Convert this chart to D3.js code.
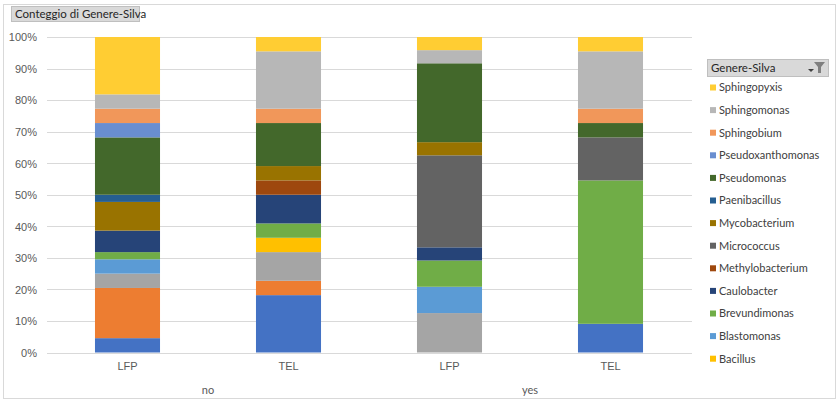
<!DOCTYPE html>
<html>
<head>
<meta charset="utf-8">
<script src="https://cdn.jsdelivr.net/npm/d3@7"></script>
<style>
  html, body { margin: 0; padding: 0; background: #fff; }
  svg { display: block; font-family: Lato, "Open Sans", "Liberation Sans", sans-serif; }
</style>
</head>
<body>
<svg id="chart" width="840" height="401"></svg>
<script>
// ---- data (counts; shown as 100% stacked) ----
const groups = ["no", "no", "yes", "yes"];
const categories = ["LFP", "TEL", "LFP", "TEL"];
// series in stacking order (bottom -> top); the first three legend entries are scrolled out of view
const seriesNames = ["Genere A", "Genere B", "Genere C", "Bacillus", "Blastomonas", "Brevundimonas",
  "Caulobacter", "Methylobacterium", "Micrococcus", "Mycobacterium", "Paenibacillus",
  "Pseudomonas", "Pseudoxanthomonas", "Sphingobium", "Sphingomonas", "Sphingopyxis"];
const legendVisible = ["Sphingopyxis", "Sphingomonas", "Sphingobium", "Pseudoxanthomonas",
  "Pseudomonas", "Paenibacillus", "Mycobacterium", "Micrococcus", "Methylobacterium",
  "Caulobacter", "Brevundimonas", "Blastomonas", "Bacillus"];
const seriesColors = ["#4472C4", "#ED7D31", "#A5A5A5", "#FFC000", "#5B9BD5", "#70AD47",
  "#264478", "#9E480E", "#636363", "#997300", "#255E91", "#43682B", "#698ED0",
  "#F1975A", "#B7B7B7", "#FFCD33"];
// one array per series: values for [no-LFP, no-TEL, yes-LFP, yes-TEL]
const vGenereA          = [2, 4, 0, 2];
const vGenereB          = [7, 1, 0, 0];
const vGenereC          = [2, 2, 3, 0];
const vBacillus         = [0, 1, 0, 0];
const vBlastomonas      = [2, 0, 2, 0];
const vBrevundimonas    = [1, 1, 2, 10];
const vCaulobacter      = [3, 2, 1, 0];
const vMethylobacterium = [0, 1, 0, 0];
const vMicrococcus      = [0, 0, 7, 3];
const vMycobacterium    = [4, 1, 1, 0];
const vPaenibacillus    = [1, 0, 0, 0];
const vPseudomonas      = [8, 3, 6, 1];
const vPseudoxanthomonas= [2, 0, 0, 0];
const vSphingobium      = [2, 1, 0, 1];
const vSphingomonas     = [2, 4, 1, 4];
const vSphingopyxis     = [8, 1, 1, 1];
const seriesValues = [vGenereA, vGenereB, vGenereC, vBacillus, vBlastomonas, vBrevundimonas,
  vCaulobacter, vMethylobacterium, vMicrococcus, vMycobacterium, vPaenibacillus, vPseudomonas,
  vPseudoxanthomonas, vSphingobium, vSphingomonas, vSphingopyxis];
const yTicks = [0, 0.1, 0.2, 0.3, 0.4, 0.5, 0.6, 0.7, 0.8, 0.9, 1.0];
const chartTitle = "Conteggio di Genere-Silva";
const legendTitle = "Genere-Silva";

// ---- build table ----
const rows = categories.map((c, i) => {
  const r = { key: i, cat: c, grp: groups[i] };
  seriesNames.forEach((s, j) => r[s] = seriesValues[j][i]);
  return r;
});
const stack = d3.stack().keys(seriesNames).offset(d3.stackOffsetExpand);
const stacked = stack(rows);
const color = d3.scaleOrdinal().domain(seriesNames).range(seriesColors);

const svg = d3.select("#chart");
const W = 840, H = 401;

// outer frame
svg.append("rect").attr("x", 3.5).attr("y", 4.5).attr("width", 832).attr("height", 394)
  .attr("fill", "#fff").attr("stroke", "#D9D9D9");

const plot = { left: 47, right: 691, top: 37, bottom: 352.5 };
const x = d3.scaleBand().domain(rows.map(r => r.key)).range([plot.left, plot.right]).paddingInner(0.596).paddingOuter(0.298);
const y = d3.scaleLinear().domain([0, 1]).range([plot.bottom, plot.top]);

// gridlines
svg.append("g").selectAll("line").data(yTicks).join("line")
  .attr("x1", plot.left).attr("x2", plot.right + 1)
  .attr("y1", d => Math.round(y(d)) + 0.5).attr("y2", d => Math.round(y(d)) + 0.5)
  .attr("stroke", "#D9D9D9").attr("stroke-width", 1);

// y axis labels
const yAxis = d3.axisLeft(y).tickValues(yTicks).tickFormat(d3.format(".0%")).tickSize(0).tickPadding(0);
const yg = svg.append("g").attr("transform", `translate(37,0)`).call(yAxis);
yg.select(".domain").remove();
yg.selectAll("text").attr("fill", "#595959").attr("font-size", "11px").attr("dy", "0.35em");

// bars
svg.append("g").selectAll("g").data(stacked).join("g")
  .attr("fill", d => color(d.key))
  .selectAll("rect").data(d => d).join("rect")
  .attr("x", d => x(d.data.key))
  .attr("width", x.bandwidth())
  .attr("y", d => y(d[1]))
  .attr("height", d => Math.max(0, y(d[0]) - y(d[1])));

// category labels
const xAxis = d3.axisBottom(x).tickFormat(k => categories[k]).tickSize(0).tickPadding(0);
const xg = svg.append("g").attr("transform", `translate(0,${plot.bottom + 10})`).call(xAxis);
xg.select(".domain").remove();
xg.selectAll("text").attr("fill", "#595959").attr("font-size", "11px").attr("dy", "0.71em");

// group labels
const grpNames = Array.from(new Set(groups));
grpNames.forEach(g => {
  const idx = rows.filter(r => r.grp === g).map(r => r.key);
  const cx = d3.mean(idx, k => x(k) + x.bandwidth() / 2);
  svg.append("text").attr("x", cx).attr("y", 390).attr("text-anchor", "middle")
    .attr("fill", "#595959").attr("font-size", "11px").attr("dy", "0.35em").text(g);
});

// title button
svg.append("rect").attr("x", 11.5).attr("y", 6.5).attr("width", 128).attr("height", 15)
  .attr("fill", "#D9D9D9").attr("stroke", "#BFBFBF");
svg.append("text").attr("x", 15).attr("y", 14).attr("dy", "0.35em")
  .attr("font-size", "11.5px").attr("fill", "#262626").text(chartTitle);

// legend header button
svg.append("rect").attr("x", 707.5).attr("y", 59.5).attr("width", 121).attr("height", 17)
  .attr("fill", "#D9D9D9").attr("stroke", "#BFBFBF");
svg.append("text").attr("x", 711).attr("y", 68).attr("dy", "0.35em")
  .attr("font-size", "11.5px").attr("fill", "#262626").text(legendTitle);
// dropdown arrow + filter icon
svg.append("path").attr("d", "M808,69 L814,69 L811,72 Z").attr("fill", "#404040");
svg.append("path").attr("d", "M814,62 L825,62 L821,67 L821,73 L818,73 L818,67 Z").attr("fill", "#7F7F7F");

// legend items
const lg = svg.append("g").selectAll("g").data(legendVisible).join("g")
  .attr("transform", (d, i) => `translate(710,${87.5 + i * 22.6})`);
lg.append("rect").attr("x", 0).attr("y", -3).attr("width", 6).attr("height", 6).attr("fill", d => color(d));
lg.append("text").attr("x", 9).attr("y", 0).attr("dy", "0.35em")
  .attr("font-size", "11px").attr("fill", "#404040").text(d => d);
</script>
</body>
</html>
